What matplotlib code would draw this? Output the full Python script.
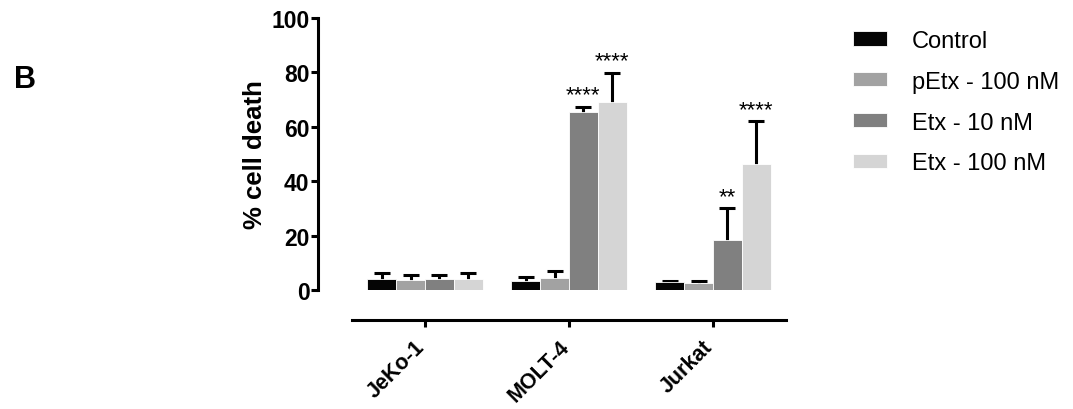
import numpy as np
import matplotlib.pyplot as plt
from matplotlib.transforms import ScaledTranslation

plt.rcParams['font.family'] = ['Liberation Sans', 'DejaVu Sans']

# cell lines and treatments
cell_lines = ['JeKo-1', 'MOLT-4', 'Jurkat']
treatments = ['Control', 'pEtx - 100 nM', 'Etx - 10 nM', 'Etx - 100 nM']
colors = ['#050505', '#a2a2a2', '#808080', '#d5d5d5']

# mean % cell death per treatment (rows) and cell line (columns)
means = [
    [4.0, 3.2, 2.8],
    [3.8, 4.5, 2.6],
    [4.0, 65.3, 18.5],
    [4.0, 69.2, 46.3],
]
# SD
errs = [
    [2.2, 1.6, 0.6],
    [1.6, 2.6, 0.8],
    [1.6, 2.0, 11.5],
    [2.2, 10.6, 15.7],
]
# significance marks vs control
stars = [
    ['', '', ''],
    ['', '', ''],
    ['', '****', '**'],
    ['', '****', '****'],
]

fig = plt.figure(figsize=(10.73, 4.10), dpi=100)
ax = fig.add_axes([0.328, 0.290, 0.4045, 0.6637])

# prism-style detached axes (set before the tick labels, set_position resets ticks)
ax.spines['top'].set_visible(False)
ax.spines['right'].set_visible(False)
ax.spines['left'].set_position(('outward', 24.5))
ax.spines['bottom'].set_position(('outward', 21.6))
ax.spines['left'].set_linewidth(2.2)
ax.spines['bottom'].set_linewidth(2.2)

x = np.arange(len(cell_lines))
width = 0.2
offsets = [-0.3, -0.1, 0.1, 0.3]

handles = []
for i, name in enumerate(treatments):
    pos = x + offsets[i]
    b = ax.bar(pos, means[i], width, color=colors[i], edgecolor='white',
               linewidth=0.6, label=name, zorder=3)
    handles.append(b)
    # lower half of the bar hides under the bar itself
    ax.errorbar(pos, means[i], yerr=errs[i], fmt='none', ecolor='black',
                elinewidth=2.2, capsize=6, capthick=2.2, zorder=2)
    for j in range(len(cell_lines)):
        if stars[i][j]:
            ax.annotate(stars[i][j], (pos[j], means[i][j] + errs[i][j]),
                        xytext=(0, 1), textcoords='offset points',
                        ha='center', va='bottom', fontsize=16)

ax.set_xlim(-0.507, 2.507)
ax.set_ylim(0, 100)
ax.set_yticks([0, 20, 40, 60, 80, 100])
ax.set_yticklabels(['0', '20', '40', '60', '80', '100'], fontsize=16.5,
                   fontweight='bold')
ax.set_xticks(x)
ax.set_xticklabels(cell_lines, rotation=45, ha='right', va='center',
                   rotation_mode='anchor', fontsize=15.5, fontweight='bold')
ax.set_ylabel('% cell death', fontsize=18.5, fontweight='bold', labelpad=3)
ax.tick_params(axis='both', width=2.2, length=5)
ax.tick_params(axis='y', pad=1)
ax.tick_params(axis='x', pad=12)

# nudge rotated labels so their ends sit just left of the ticks
nudge = ScaledTranslation(-3 / 100, 0, fig.dpi_scale_trans)
for lbl in ax.get_xticklabels():
    lbl.set_transform(lbl.get_transform() + nudge)

fig.legend(handles=handles, labels=treatments, loc='upper left',
           bbox_to_anchor=(0.795, 0.925), frameon=False, fontsize=17,
           handlelength=1.45, handleheight=0.55, handletextpad=1.05,
           labelspacing=0.8, borderpad=0, borderaxespad=0)

fig.text(0.013, 0.785, 'B', fontsize=22, fontweight='bold')

fig.savefig('out.png', dpi=100)
